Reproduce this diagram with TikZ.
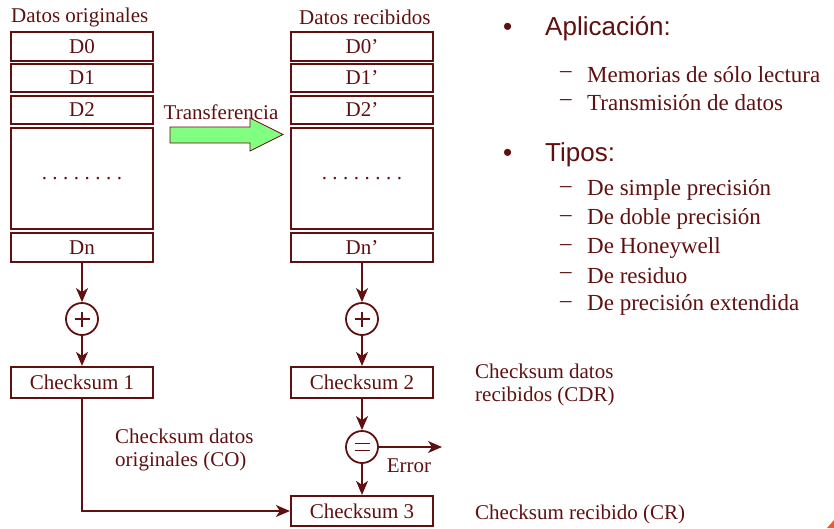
\documentclass[tikz,border=0pt]{standalone}
\usepackage{fontspec}
\setmainfont{Liberation Serif}
\newfontfamily\arialfam{Liberation Sans}
\usetikzlibrary{arrows.meta}
\definecolor{maroon}{RGB}{96,16,16}
\definecolor{lgreen}{RGB}{128,255,128}
\definecolor{cornerc}{RGB}{240,90,50}
\newcommand{\dotrow}{.\hspace{5.5pt}.\hspace{5.5pt}.\hspace{5.5pt}.\hspace{5.5pt}.\hspace{5.5pt}.\hspace{5.5pt}.\hspace{5.5pt}.}
\begin{document}
\begin{tikzpicture}[x=1pt,y=-1pt,
  font=\fontsize{21}{25}\selectfont, text=maroon,
  cell/.style={draw=maroon, line width=2.2pt, minimum width=142pt, inner sep=0pt, fill=white},
  ring/.style={circle, draw=maroon, line width=1.8pt, minimum size=32pt, inner sep=0pt},
  arr/.style={draw=maroon, line width=1.3pt, -{Stealth[length=14pt,width=12pt,inset=4pt]}},
  sym/.style={draw=maroon, line width=1.6pt},
  lbl/.style={anchor=west, inner sep=0pt},
  head/.style={anchor=west, inner sep=0pt, font=\arialfam\fontsize{26}{30}\selectfont},
  item/.style={anchor=west, inner sep=0pt, font=\fontsize{23}{27}\selectfont}]
\useasboundingbox (0,0) rectangle (834,528);

% left column
\node[lbl] (tl) at (11,17) {Datos originales};
\node[cell, minimum height=29pt] (a0) at (82,46.5) {D0};
\node[cell, minimum height=28pt] (a1) at (82,78) {D1};
\node[cell, minimum height=28pt] (a2) at (82,110) {D2};
\node[cell, minimum height=101pt] (ad) at (82,178.5) {\dotrow};
\node[cell, minimum height=29pt] (an) at (82,247.5) {Dn};
\node[ring] (p1) at (82,319) {};
\node[cell, minimum height=31pt] (c1) at (82,382.5) {Checksum 1};

% right column
\node[lbl] (tr) at (299,17) {Datos recibidos};
\node[cell, minimum height=29pt] (b0) at (362,46.5) {D0’};
\node[cell, minimum height=28pt] (b1) at (362,78) {D1’};
\node[cell, minimum height=28pt] (b2) at (362,110) {D2’};
\node[cell, minimum height=101pt] (bd) at (362,178.5) {\dotrow};
\node[cell, minimum height=29pt] (bn) at (362,247.5) {Dn’};
\node[ring] (p2) at (362,319) {};
\node[cell, minimum height=31pt] (c2) at (362,382.5) {Checksum 2};
\node[ring] (eq) at (362,447) {};
\node[cell, minimum height=30pt] (c3) at (362,511) {Checksum 3};
\coordinate (errend) at (442,447);

% symbols in rings
\draw[sym] (p1.center) ++(-7.5,0) -- ++(15,0);
\draw[sym] (p1.center) ++(0,-7.5) -- ++(0,15);
\draw[sym] (p2.center) ++(-7.5,0) -- ++(15,0);
\draw[sym] (p2.center) ++(0,-7.5) -- ++(0,15);
\draw[sym] (eq.center) ++(-7.5,-3.5) -- ++(15,0);
\draw[sym] (eq.center) ++(-7.5,3.5) -- ++(15,0);

% transfer arrow
\node[inner sep=0pt] (tx) at (221,112) {Transferencia};
\draw[draw=maroon, line width=0.8pt, fill=lgreen]
  (170,127) -- (250,127) -- (250,118) -- (283,134.5) -- (250,151) -- (250,143) -- (170,143) -- cycle;

% connectors
\draw[arr] (an.south) -- (p1.north);
\draw[arr] (p1.south) -- (c1.north);
\draw[arr] (bn.south) -- (p2.north);
\draw[arr] (p2.south) -- (c2.north);
\draw[arr] (c2.south) -- (eq.north);
\draw[arr] (eq.south) -- (c3.north);
\draw[arr] (eq.east) -- (errend);
\draw[arr] (c1.south) |- (c3.west);

% labels
\node[inner sep=0pt] (err) at (409,466) {Error};
\node[lbl] (co1) at (115,436) {Checksum datos};
\node[lbl] (co2) at (115,461) {originales (CO)};
\node[lbl] (cd1) at (475,371) {Checksum datos};
\node[lbl] (cd2) at (475,396) {recibidos (CDR)};
\node[lbl] (cr) at (475,514) {Checksum recibido (CR)};

% bullet list
\node[head] (bu1) at (503,29) {•};
\node[head] (h1) at (545,29) {Aplicación:};
\node[item] (d1) at (560,75) {–};
\node[item] (i1) at (587,75) {Memorias de sólo lectura};
\node[item] (d2) at (560,103) {–};
\node[item] (i2) at (587,103) {Transmisión de datos};
\node[head] (bu2) at (503,155) {•};
\node[head] (h2) at (545,155) {Tipos:};
\node[item] (d3) at (560,190) {–};
\node[item] (i3) at (587,190) {De simple precisión};
\node[item] (d4) at (560,219) {–};
\node[item] (i4) at (587,219) {De doble precisión};
\node[item] (d5) at (560,248) {–};
\node[item] (i5) at (587,248) {De Honeywell};
\node[item] (d6) at (560,276) {–};
\node[item] (i6) at (587,276) {De residuo};
\node[item] (d7) at (560,305) {–};
\node[item] (i7) at (587,305) {De precisión extendida};

% corner mark
\fill[cornerc] (827,528) -- (834,528) -- (834,520) -- cycle;
\end{tikzpicture}
\end{document}
